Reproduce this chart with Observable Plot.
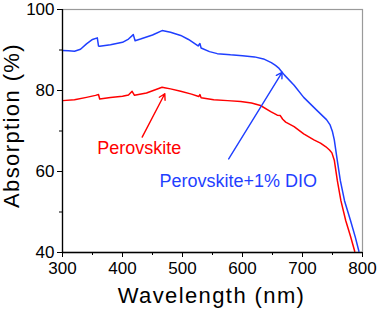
<!DOCTYPE html>
<html>
<head>
<meta charset="utf-8">
<script src="https://cdn.jsdelivr.net/npm/d3@7"></script>
<script src="https://cdn.jsdelivr.net/npm/@observablehq/plot@0.6"></script>
<style>
  html, body { margin: 0; padding: 0; background: #fff; }
  #chart svg { display: block; }
</style>
</head>
<body>
<div id="chart"></div>
<script>
// Perovskite + 1% DIO (blue)
const wlBlue = [300,310,320,330,340,350,358,360,362,380,400,410,418,421,430,450,466,470,480,497,510,526,529,531,545,558,580,600,620,635,648,655,660,665,670,686,702,724,740,746,750,753,758,763,770,780,788,794];
const absBlue = [89.9,89.8,89.7,90.2,91.5,92.6,93.0,91.0,90.9,91.3,91.9,92.7,93.8,92.3,92.7,93.7,94.8,94.7,94.4,93.6,92.6,91.0,91.6,90.5,89.6,89.1,88.8,88.6,88.3,87.8,86.9,86.2,85.6,84.7,83.8,81.3,78.3,75.1,72.8,71.5,69.8,67.8,62.7,57.8,52.8,47.9,43.8,40.3];
// Perovskite (red)
const wlRed = [300,320,340,355,360,362,380,400,410,416,420,440,466,470,480,497,515,527,529,531,552,575,597,615,630,647,658,663,667,672,686,702,719,730,739,745,749,753,758,764,772,780,787];
const absRed = [77.5,77.7,78.3,78.8,79.0,77.9,78.3,78.6,78.9,79.8,78.8,79.4,80.8,80.7,80.4,79.8,79.1,78.5,79.0,78.2,77.7,77.5,77.3,76.9,76.3,74.8,73.9,73.8,72.9,72.2,71.1,69.3,67.8,67.0,66.1,65.3,64.6,62.8,57.8,52.8,47.9,44.0,40.3];

const xTicks = [300,400,500,600,700,800];
const xMinor = [350,450,550,650,750];
const yTicks = [40,60,80,100];
const yMinor = [50,70,90];

const seriesNames = ["Perovskite", "Perovskite+1% DIO"];
const labelX = [358, 461.7];
const labelY = [65.75, 57.6];
const arrowX1 = [432.8, 577];
const arrowY1 = [68.5, 63.1];
const arrowX2 = [470.5, 666];
const arrowY2 = [79.2, 84.5];

const RED = "#ff0000";
const BLUE = "#1f3fff";
const colors = [RED, BLUE];

const blue = wlBlue.map((w, i) => ({w, a: absBlue[i]}));
const red = wlRed.map((w, i) => ({w, a: absRed[i]}));
const notes = seriesNames.map((name, i) => ({name, x: labelX[i], y: labelY[i], x1: arrowX1[i], y1: arrowY1[i], x2: arrowX2[i], y2: arrowY2[i], c: colors[i]}));

const chart = Plot.plot({
  width: 378,
  height: 312,
  marginLeft: 62,
  marginRight: 16,
  marginTop: 9,
  marginBottom: 60,
  style: {fontFamily: "'Liberation Sans', Arial, sans-serif", fontSize: "17px", color: "#000", background: "#fff"},
  x: {domain: [300, 800], label: null},
  y: {domain: [40, 100], label: null},
  marks: [
    Plot.frame({stroke: "#9a9a9a", strokeWidth: 1.2}),
    Plot.line(red, {x: "w", y: "a", stroke: RED, strokeWidth: 1.5, clip: true}),
    Plot.line(blue, {x: "w", y: "a", stroke: BLUE, strokeWidth: 1.5, clip: true}),
    Plot.arrow(notes, {x1: "x1", y1: "y1", x2: "x2", y2: "y2", stroke: "c", strokeWidth: 1.4, headLength: 7}),
    Plot.text(notes, {x: "x", y: "y", text: "name", fill: "c", textAnchor: "start", lineAnchor: "middle", fontSize: 18}),
    Plot.ruleX([300], {stroke: "#000", strokeWidth: 1.3}),
    Plot.ruleY([40], {stroke: "#000", strokeWidth: 1.3}),
    Plot.axisX({ticks: xTicks, tickSize: 5, tickPadding: 4, tickFormat: d => d, fontSize: 17, label: null}),
    Plot.axisX({ticks: xMinor, tickSize: 3, tickFormat: () => "", label: null}),
    Plot.axisY({ticks: yTicks, tickSize: 5, tickPadding: 3, tickFormat: d => d, fontSize: 17, label: null}),
    Plot.axisY({ticks: yMinor, tickSize: 3, tickFormat: () => "", label: null}),
    Plot.text(["Wavelength (nm)"], {frameAnchor: "bottom", textAnchor: "middle", dy: 43, dx: -1, lineAnchor: "middle", fontSize: 22, fill: "#000", text: d => d}),
    Plot.text(["Absorption (%)"], {frameAnchor: "left", textAnchor: "middle", dx: -50.5, dy: -5.5, rotate: -90, lineAnchor: "middle", fontSize: 22, fill: "#000", text: d => d})
  ]
});
d3.select(chart).selectAll("text").filter(function() { return /Wavelength|Absorption/.test(this.textContent); }).style("letter-spacing", "1.4px");
document.getElementById("chart").appendChild(chart);
</script>
</body>
</html>
